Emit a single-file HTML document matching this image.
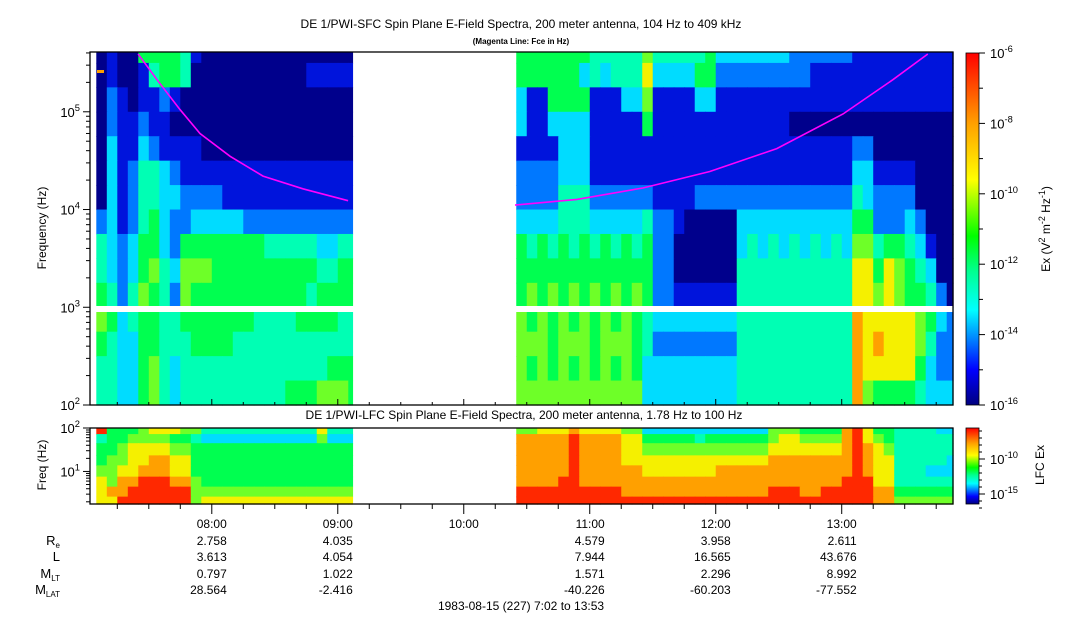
<!DOCTYPE html>
<html><head><meta charset="utf-8"><style>
html,body{margin:0;padding:0;background:#fff;}
svg{display:block;font-family:"Liberation Sans",sans-serif;}
</style></head><body>
<svg id="chart" width="1083" height="620" viewBox="0 0 1083 620" xmlns="http://www.w3.org/2000/svg">
<defs>
<linearGradient id="jet" x1="0" y1="1" x2="0" y2="0">
<stop offset="0" stop-color="#00007f"/><stop offset="0.1" stop-color="#0000ff"/>
<stop offset="0.27" stop-color="#00ffff"/><stop offset="0.38" stop-color="#00ff90"/>
<stop offset="0.48" stop-color="#00ff00"/><stop offset="0.64" stop-color="#ffff00"/>
<stop offset="0.8" stop-color="#ffa000"/><stop offset="1" stop-color="#ff0000"/>
</linearGradient>
</defs>
<g id="layer"></g>
</svg>
<script>
// ---- data ----
const palette = ['#00008c','#0014dc','#0078ff','#00dcff','#00ffb4','#00ff50','#6eff28','#f5f000','#ffa000','#ff2800'];
const startMin = 0;            // minutes after 7:02
const endMin = 411;            // 13:53
const sfcLeftStart = 3;        // 7:05
const sfcRightStart = 203;     // 10:25
const colMinutes = 5;
const sfcLogBands = [5.75,5.5,5.25,5.0,4.75,4.5,4.25,4.0,3.75,3.5,3.25,3.0,2.75,2.5,2.25,2.0];
const sfcLeft = [
 '0100'+'5555'+'4'+'1'+'000000000000000',
 '0100'+'1'+'455'+'4'+'00000000000'+'11111',
 '0210'+'1121'+'00000000000000000',
 '0211'+'211'+'000000000000000000',
 '0311'+'32111'+'1'+'000000000000000',
 '0312'+'4432'+'1111'+'1111'+'111111111',
 '0312'+'4433'+'2222'+'111'+'1111111111',
 '2312'+'4532'+'2333'+'33'+'22222222222',
 '4323'+'5532'+'55555555'+'44444'+'3344',
 '4323'+'5643'+'6665'+'555555555'+'4455',
 '5424'+'6542'+'6555'+'5555'+'5555'+'45555',
 '6534'+'5544'+'5555'+'5554'+'4445'+'55544',
 '5433'+'5544'+'4555'+'5444'+'4444'+'44444',
 '4433'+'5643'+'4444'+'4444'+'4444'+'44555',
 '4433'+'5643'+'4444'+'4444'+'4455'+'56665'
];
const sfcRight = [
 '5555555'+'44444'+'6'+'44444'+'5'+'3333333'+'222222'+'1111111111',
 '555555'+'3434'+'44'+'7'+'3333'+'55'+'222222222'+'1111'+'1111111111',
 '3'+'11'+'5555'+'111'+'33'+'6'+'1111'+'33'+'11111111111111111111111',
 '3'+'11'+'3333'+'11111'+'5'+'1111111111111'+'0000000000000000',
 '1111'+'333'+'1111111111111111111111111'+'22'+'00000000',
 '2222'+'333'+'1111111111111111111111111'+'33'+'1111'+'0000',
 '2222'+'444'+'222222'+'1111'+'222222222222222'+'43'+'2222'+'0000',
 '3333'+'444'+'33333'+'4'+'22'+'1'+'00000'+'33333333333'+'55'+'222'+'3'+'2'+'000',
 '5454545454545'+'22'+'000000'+'34343434343'+'66'+'4'+'55'+'4'+'3'+'1'+'00',
 '5555555555555'+'22'+'000000'+'44444444444'+'77'+'5'+'7'+'6'+'5'+'4'+'3'+'00',
 '5656565656565'+'22'+'111111'+'44444444444'+'77'+'6'+'7'+'6'+'5'+'5'+'4'+'2'+'0',
 '656565656565'+'4'+'33333333'+'44444444444'+'8'+'7'+'7777'+'6'+'5'+'3'+'2',
 '666566656665'+'4'+'22222222'+'44444444444'+'8'+'7'+'877'+'7'+'6'+'4'+'2'+'2',
 '656565656565'+'333333333'+'44444444444'+'8'+'7'+'7777'+'5'+'3'+'22',
 '666666666666'+'333333333'+'44444444444'+'8'+'6'+'5555'+'4'+'3'+'33'
];
const lfcLogBands = [2.0,1.86,1.65,1.37,1.14,0.88,0.65,0.42,0.25];
const lfcLeft = [
 '9555677766'+'44444444444'+'7444',
 '4556666554'+'33333333333'+'6333',
 '5567777665'+'55555555555'+'5555',
 '5667788775'+'55555555555'+'5555',
 '6677888775'+'55555555555'+'5555',
 '7688999886'+'55555555555'+'5555',
 '7889999996'+'66666666666'+'6666',
 '7799999996'+'77777777777'+'7777'
];
const lfcRight = [
 '6677787777'+'663'+'333333'+'33333'+'666'+'5555'+'89'+'7'+'55'+'444'+'4'+'33',
 '8888898888'+'775'+'555545'+'55555'+'677'+'6666'+'89'+'7'+'65'+'444'+'4'+'44',
 '8888898888'+'776'+'666666'+'66666'+'777'+'7777'+'89'+'8'+'76'+'444'+'4'+'44',
 '8888898888'+'777'+'777777'+'77777'+'888'+'8888'+'89'+'8'+'77'+'444'+'4'+'43',
 '8888898888'+'887'+'777777'+'88888'+'888'+'8888'+'89'+'8'+'77'+'444'+'3'+'33',
 '8888998888'+'888'+'888888'+'88888'+'888'+'8888'+'99'+'9'+'77'+'444'+'4'+'44',
 '9999999999'+'888'+'888888'+'88888'+'999'+'8899'+'99'+'9'+'88'+'555'+'5'+'55',
 '9999999999'+'999'+'999999'+'99999'+'999'+'9999'+'99'+'9'+'88'+'666'+'6'+'66'
];
const fceLeftMin = [22.9,31.9,42.9,52.4,66.7,82.4,101.4,122.9];
const fceLeftKHz = [390,213,105,60,35,22,16.3,12.3];
const fceRightMin = [202.4,231.9,263.3,295.2,327.1,358.6,382.4,399];
const fceRightKHz = [11.1,12.7,16.6,24.5,42,95,213,390];
const hourLabels = ['08:00','09:00','10:00','11:00','12:00','13:00'];
const hourMin = [58,118,178,238,298,358];
const reVals = ['2.758','4.035','','4.579','3.958','2.611'];
const lVals = ['3.613','4.054','','7.944','16.565','43.676'];
const mltVals = ['0.797','1.022','','1.571','2.296','8.992'];
const mlatVals = ['28.564','-2.416','','-40.226','-60.203','-77.552'];

// ---- axes ----
const X0=90, X1=953;
const xs = m => X0 + (m-startMin)/(endMin-startMin)*(X1-X0);
const T0=52, T1=405; const TLmin=2, TLmax=Math.log10(409000);
const ysT = lf => T1 - (lf-TLmin)/(TLmax-TLmin)*(T1-T0);
const B0=428, B1=504; const BLmin=Math.log10(1.78), BLmax=2;
const ysB = lf => B1 - (lf-BLmin)/(BLmax-BLmin)*(B1-B0);

const NS='http://www.w3.org/2000/svg';
const layer=document.getElementById('layer');
function mk(tag, attrs, parent){const e=document.createElementNS(NS,tag);for(const k in attrs)e.setAttribute(k,attrs[k]);(parent||layer).appendChild(e);return e;}

function drawGrid(rows, bands, segStart, segEndMin, ys, yMin, yMax, name){
  const g=mk('g',{});
  
  
  rows.forEach((row,r)=>{
    const yTop=Math.max(yMin, ys(bands[r])), yBot=Math.min(yMax, ys(bands[r+1]));
    for(let c=0;c<row.length;c++){
      const m0=segStart+c*colMinutes; if(m0>=segEndMin)break;
      const m1=Math.min(segEndMin, m0+colMinutes);
      const x0=xs(m0), x1=xs(m1);
      const rect=mk('rect',{x:x0.toFixed(2),y:yTop.toFixed(2),width:(x1-x0+0.6).toFixed(2),height:(yBot-yTop+0.6).toFixed(2),fill:palette[+row[c]]},g);
      
      
    }
  });
}
drawGrid(sfcLeft, sfcLogBands, sfcLeftStart, 125, ysT, T0, T1, 'sfc-left-segment');
drawGrid(sfcRight, sfcLogBands, sfcRightStart, endMin, ysT, T0, T1, 'sfc-right-segment');
drawGrid(lfcLeft, lfcLogBands, sfcLeftStart, 125, ysB, B0, B1, 'lfc-left-segment');
drawGrid(lfcRight, lfcLogBands, sfcRightStart, endMin, ysB, B0, B1, 'lfc-right-segment');
// gap band at 1 kHz
const gap=mk('rect',{x:X0,y:306,width:X1-X0,height:6,fill:'#fff'});


const om=mk('rect',{x:97,y:70,width:7,height:3,fill:'#ffa000'});



// fce lines
function fceLine(mins, khz, name){
  const pts=mins.map((m,i)=>xs(m).toFixed(1)+','+ysT(Math.log10(khz[i]*1000)).toFixed(1)).join(' ');
  const p=mk('polyline',{points:pts,fill:'none',stroke:'#ff00ff','stroke-width':1.6});
  
  
}
fceLine(fceLeftMin, fceLeftKHz, 'fce-line-left');
fceLine(fceRightMin, fceRightKHz, 'fce-line-right');

// frames
[[T0,T1,'sfc-plot-frame'],[B0,B1,'lfc-plot-frame']].forEach(([a,b,n])=>{
  const r=mk('rect',{x:X0,y:a,width:X1-X0,height:b-a,fill:'none',stroke:'#000','stroke-width':1.3});
  
  
});

function txt(x,y,s,opts,name){
  const t=mk('text',Object.assign({x:x,y:y,'font-size':12,fill:'#000'},opts||{}));
  t.textContent=s;
  
  
  return t;
}
function pow(x,y,base,exp,anchor,name,fs){
  fs=fs||13;
  const t=mk('text',{x:x,y:y,'font-size':fs,'text-anchor':anchor||'end',fill:'#000'});
  
  
  const a=mk('tspan',{},t); a.textContent=base;
  const b=mk('tspan',{dy:-6,'font-size':fs*0.72},t); b.textContent=exp;
}

// top y axis
for(let d=2; d<=5; d++){
  for(let k=1;k<10;k++){
    const lf=d+Math.log10(k); if(lf>TLmax)break;
    const y=ysT(lf); const len=k===1?7:4;
    const l=mk('line',{x1:X0-len,x2:X0,y1:y,y2:y,stroke:'#000'});
    
    
  }
  pow(80,ysT(d)+5,'10',String(d),'end','y-tick-label');
}
txt(46,228,'Frequency (Hz)',{'text-anchor':'middle',transform:'rotate(-90 46 228)'},'y-axis-title');
// bottom y axis
for(let d=0; d<=2; d++){
  for(let k=1;k<10;k++){
    const lf=d+Math.log10(k); if(lf>BLmax+0.001||lf<BLmin)continue;
    const y=ysB(lf); const len=k===1?7:4;
    const l=mk('line',{x1:X0-len,x2:X0,y1:y,y2:y,stroke:'#000'});
    
    
  }
}
pow(80,ysB(2)+5,'10','2','end','lfc-y-tick-label');
pow(80,ysB(1)+5,'10','1','end','lfc-y-tick-label');
txt(46,465,'Freq (Hz)',{'text-anchor':'middle',transform:'rotate(-90 46 465)'},'lfc-y-axis-title');

// time ticks
for(let m=13; m<=endMin; m+=15){
  const x=xs(m), major=((m-58)%60===0);
  const l=mk('line',{x1:x,x2:x,y1:B1,y2:B1+(major?10:5),stroke:'#000'});
  
  
  const l2=mk('line',{x1:x,x2:x,y1:T1,y2:T1-(major?6:3),stroke:'#000'});
  
  
}
const rowY=[528,545,561,578,594];
hourMin.forEach((m,i)=>{
  const x=xs(m)+15;
  txt(x,rowY[0],hourLabels[i],{'text-anchor':'end'},'x-tick-label');
  [reVals,lVals,mltVals,mlatVals].forEach((arr,j)=>{ if(arr[i]) txt(x,rowY[j+1],arr[i],{'text-anchor':'end'},'ephemeris-value'); });
});
// row labels
function rl(y,main,sub,name){
  const t=mk('text',{x:60,y:y,'font-size':13,'text-anchor':'end'});
  
  
  const a=mk('tspan',{},t);a.textContent=main;
  if(sub){const b=mk('tspan',{dy:3,'font-size':8},t);b.textContent=sub;}
}
rl(545,'R','e','re-label'); rl(561,'L','','l-label'); rl(578,'M','LT','mlt-label'); rl(594,'M','LAT','mlat-label');
txt(521,610,'1983-08-15 (227) 7:02 to 13:53',{'text-anchor':'middle'},'time-range-label');

// titles
txt(521,28,'DE 1/PWI-SFC  Spin Plane E-Field Spectra, 200 meter antenna, 104 Hz to 409 kHz',{'text-anchor':'middle'},'chart-title');
txt(521,44,'(Magenta Line: Fce in Hz)',{'text-anchor':'middle','font-size':8,'font-weight':'bold'},'chart-subtitle');
txt(524,419,'DE 1/PWI-LFC  Spin Plane E-Field Spectra, 200 meter antenna, 1.78 Hz to 100 Hz',{'text-anchor':'middle'},'lfc-title');

// colorbars
const CX=966, CW=13;
const cb1=mk('rect',{x:CX,y:53,width:CW,height:352,fill:'url(#jet)',stroke:'#000','stroke-width':0.8});


const cbExp=[-6,-8,-10,-12,-14,-16];
for(let e=-6;e>=-16;e--){
  const y=53+(-6-e)/10*352;
  const l=mk('line',{x1:CX+CW,x2:CX+CW+(e%2===0?6:4),y1:y,y2:y,stroke:'#000'});
  
  
}
cbExp.forEach(e=>pow(990,53+(-6-e)/10*352+5,'10',String(e),'start','colorbar-tick-label'));
const ct=mk('text',{x:1050,y:229,'font-size':12,'text-anchor':'middle',transform:'rotate(-90 1050 229)'});


[['Ex (V',0],['2',-5],[' m',5],['-2',-5],[' Hz',5],['-1',-5],[')',5]].forEach(([s,dy],i)=>{const t=mk('tspan',{dy:dy,'font-size':(i%2===1)?9:12},ct);t.textContent=s;});

const cb2=mk('rect',{x:CX,y:428,width:CW,height:76,fill:'url(#jet)',stroke:'#000','stroke-width':0.8});


for(let i=0;i<=11;i++){
  const y=431+i*7; const major=(i===4||i===9);
  const l=mk('line',{x1:CX+CW,x2:CX+CW+(major?6:3),y1:y,y2:y,stroke:'#000'});
  
  
}
pow(990,464,'10','-10','start','lfc-colorbar-tick-label');
pow(990,499,'10','-15','start','lfc-colorbar-tick-label');
txt(1044,465,'LFC Ex',{'text-anchor':'middle',transform:'rotate(-90 1044 465)'},'lfc-colorbar-title');
</script>
</body></html>
